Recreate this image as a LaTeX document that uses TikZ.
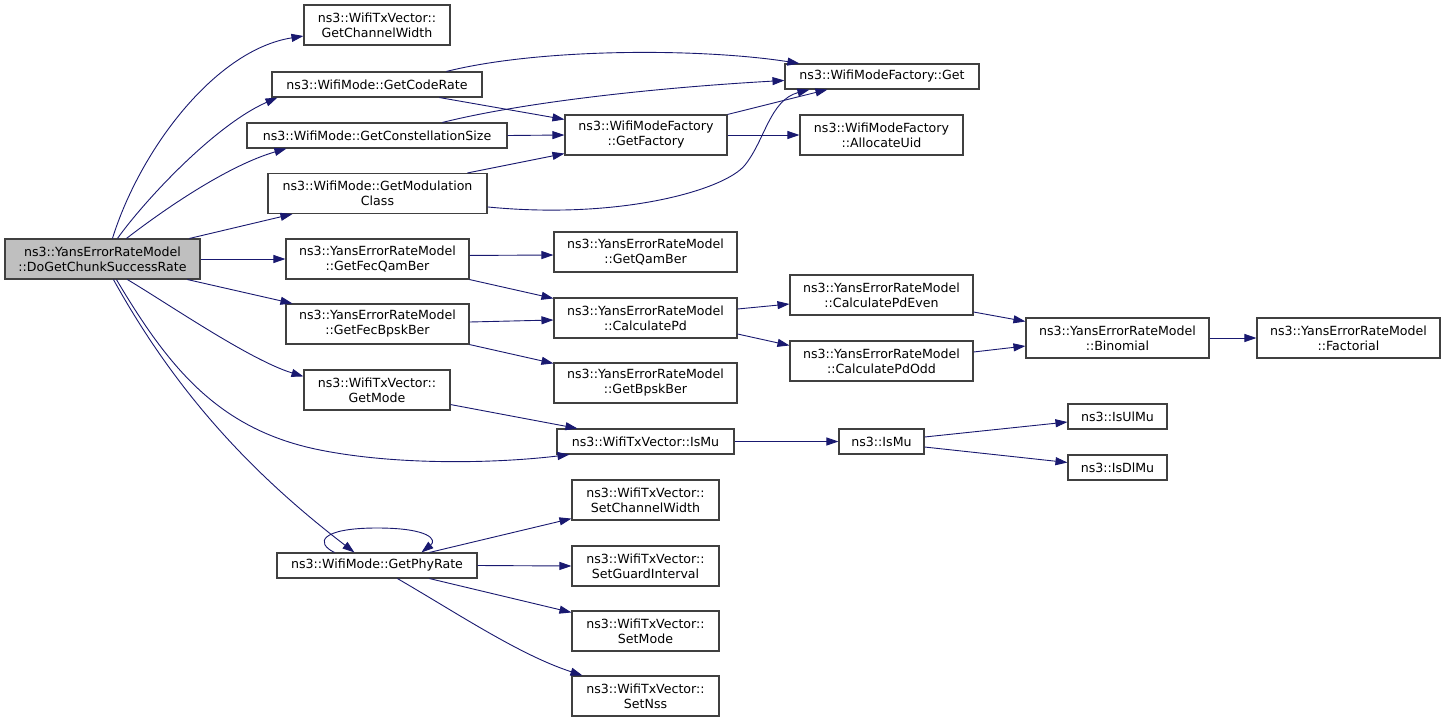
\documentclass[tikz,border=0pt]{standalone}
\usepackage{fontspec}
\setmainfont{DejaVu Sans}
\usetikzlibrary{arrows.meta}
\definecolor{edgecol}{HTML}{191970}
\definecolor{bordercol}{HTML}{404040}
\definecolor{rootfill}{HTML}{BFBFBF}
\begin{document}
\begin{tikzpicture}[x=1pt,y=-1pt,
  fn/.style={draw=bordercol, line width=1.1pt, fill=white, inner sep=0pt, align=center, font=\fontsize{12.6}{15}\selectfont},
  rootfn/.style={fn, fill=rootfill},
  call/.style={draw=edgecol, line width=0.9pt, -{Triangle[length=12pt,width=8pt]}}]
\useasboundingbox[fill=white] (0,0) rectangle (1445,723);
% nodes
\node[rootfn, minimum width=195pt, minimum height=40pt] (root) at (102.5,259) {ns3::YansErrorRateModel\\::DoGetChunkSuccessRate};
\node[fn, minimum width=146pt, minimum height=40pt] (gcw) at (377,25) {ns3::WifiTxVector::\\GetChannelWidth};
\node[fn, minimum width=210pt, minimum height=25pt] (gcr) at (377,84.5) {ns3::WifiMode::GetCodeRate};
\node[fn, minimum width=260pt, minimum height=25pt] (gcs) at (377,135.5) {ns3::WifiMode::GetConstellationSize};
\node[fn, minimum width=219pt, minimum height=40pt] (gmc) at (377.5,193.5) {ns3::WifiMode::GetModulation\\Class};
\node[fn, minimum width=194pt, minimum height=25pt] (get) at (882,76.5) {ns3::WifiModeFactory::Get};
\node[fn, minimum width=162pt, minimum height=40pt] (gf) at (646,135) {ns3::WifiModeFactory\\::GetFactory};
\node[fn, minimum width=163pt, minimum height=40pt] (au) at (881.5,135) {ns3::WifiModeFactory\\::AllocateUid};
\node[fn, minimum width=183pt, minimum height=40pt] (fqam) at (377.5,259) {ns3::YansErrorRateModel\\::GetFecQamBer};
\node[fn, minimum width=183pt, minimum height=40pt] (fbpsk) at (377.5,324) {ns3::YansErrorRateModel\\::GetFecBpskBer};
\node[fn, minimum width=183pt, minimum height=40pt] (qam) at (645.5,252) {ns3::YansErrorRateModel\\::GetQamBer};
\node[fn, minimum width=183pt, minimum height=40pt] (cpd) at (645.5,318) {ns3::YansErrorRateModel\\::CalculatePd};
\node[fn, minimum width=183pt, minimum height=40pt] (bpsk) at (645.5,383) {ns3::YansErrorRateModel\\::GetBpskBer};
\node[fn, minimum width=183pt, minimum height=40pt] (cpe) at (881.5,295) {ns3::YansErrorRateModel\\::CalculatePdEven};
\node[fn, minimum width=183pt, minimum height=40pt] (cpo) at (881.5,361) {ns3::YansErrorRateModel\\::CalculatePdOdd};
\node[fn, minimum width=183pt, minimum height=40pt] (bin) at (1117.5,338) {ns3::YansErrorRateModel\\::Binomial};
\node[fn, minimum width=183pt, minimum height=40pt] (fact) at (1348.5,338) {ns3::YansErrorRateModel\\::Factorial};
\node[fn, minimum width=146pt, minimum height=40pt] (gmode) at (377,390) {ns3::WifiTxVector::\\GetMode};
\node[fn, minimum width=177pt, minimum height=25pt] (ismuv) at (645.5,441.5) {ns3::WifiTxVector::IsMu};
\node[fn, minimum width=85pt, minimum height=25pt] (ismu) at (881.5,441.5) {ns3::IsMu};
\node[fn, minimum width=99pt, minimum height=25pt] (isul) at (1117.5,416.5) {ns3::IsUlMu};
\node[fn, minimum width=99pt, minimum height=25pt] (isdl) at (1117.5,467.5) {ns3::IsDlMu};
\node[fn, minimum width=200pt, minimum height=25pt] (phy) at (377,565.5) {ns3::WifiMode::GetPhyRate};
\node[fn, minimum width=147pt, minimum height=40pt] (scw) at (645.5,500) {ns3::WifiTxVector::\\SetChannelWidth};
\node[fn, minimum width=147pt, minimum height=40pt] (sgi) at (645.5,566) {ns3::WifiTxVector::\\SetGuardInterval};
\node[fn, minimum width=147pt, minimum height=40pt] (smode) at (645.5,631) {ns3::WifiTxVector::\\SetMode};
\node[fn, minimum width=147pt, minimum height=40pt] (snss) at (645.5,696) {ns3::WifiTxVector::\\SetNss};
% edges from root
\draw[call] ([xshift=108pt]root.north west) .. controls (140,150) and (215,50) .. ([yshift=-11pt]gcw.west);
\draw[call] ([xshift=113pt]root.north west) .. controls (145,200) and (215,125) .. ([xshift=6pt]gcr.south west);
\draw[call] ([xshift=122pt]root.north west) .. controls (170,205) and (230,165) .. ([xshift=40pt]gcs.south west);
\draw[call] ([xshift=185pt]root.north west) -- ([xshift=25pt]gmc.south west);
\draw[call] (root.east) -- (fqam.west);
\draw[call] ([xshift=183pt]root.south west) -- ([xshift=7pt]fbpsk.north west);
\draw[call] ([xshift=123pt]root.south west) .. controls (170,305) and (250,360) .. ([yshift=-7pt]gmode.north west);
\draw[call] ([xshift=112pt]root.south west) .. controls (170,370) and (220,430) .. (320,450) .. controls (400,466) and (500,463) .. ([xshift=13pt]ismuv.south west);
\draw[call] ([xshift=109pt]root.south west) .. controls (180,400) and (260,480) .. ([xshift=78pt]phy.north west);
% WifiMode callers
\draw[call] ([xshift=175pt]gcr.north west) .. controls (540,48) and (700,48) .. ([xshift=15pt]get.north west);
\draw[call] ([xshift=168pt]gcr.south west) -- ([yshift=-5pt]gf.north west);
\draw[call] ([xshift=196pt]gcs.north west) .. controls (520,103) and (650,88) .. ([yshift=-17pt]get.north west);
\draw[call] (gcs.east) -- (gf.west);
\draw[call] ([xshift=200pt]gmc.north west) -- ([yshift=2pt]gf.south west);
\draw[call] ([yshift=-34pt]gmc.north east) .. controls (620,220) and (725,190) .. (745,165) .. controls (765,140) and (770,100) .. ([xshift=25pt]get.south west);
\draw[call] (gf.north east) -- ([xshift=43pt]get.south west);
\draw[call] (gf.east) -- (au.west);
% Yans
\draw[call] ([yshift=-17pt]fqam.north east) -- ([yshift=-3pt]qam.west);
\draw[call] (fqam.south east) -- ([yshift=-1pt]cpd.north west);
\draw[call] ([yshift=2pt]fbpsk.east) -- ([yshift=-2pt]cpd.west);
\draw[call] (fbpsk.south east) -- ([yshift=-1pt]bpsk.north west);
\draw[call] ([yshift=9pt]cpd.east) -- ([yshift=-9pt]cpe.west);
\draw[call] ([yshift=-16pt]cpd.east) -- ([yshift=-5pt]cpo.north west);
\draw[call] ([yshift=-17pt]cpe.east) -- ([yshift=-4pt]bin.north west);
\draw[call] ([yshift=9pt]cpo.east) -- ([yshift=-8pt]bin.west);
\draw[call] (bin.east) -- (fact.west);
% IsMu
\draw[call] ([yshift=6pt]gmode.south east) -- ([xshift=21pt]ismuv.north west);
\draw[call] (ismuv.east) -- (ismu.west);
\draw[call] ([yshift=4.5pt]ismu.east) -- ([yshift=-5.5pt]isul.west);
\draw[call] ([yshift=-5.5pt]ismu.east) -- ([yshift=5pt]isdl.west);
% GetPhyRate
\draw[call] ([xshift=58pt]phy.north west) .. controls (315,543) and (320,528) .. (377,528) .. controls (430,528) and (437,540) .. ([xshift=145pt]phy.north west);
\draw[call] ([xshift=153pt]phy.north west) -- ([yshift=2pt]scw.south west);
\draw[call] (phy.east) -- (sgi.west);
\draw[call] ([xshift=153pt]phy.south west) -- ([yshift=-2pt]smode.north west);
\draw[call] ([xshift=121pt]phy.south west) .. controls (460,615) and (520,655) .. ([xshift=11pt]snss.north west);
\end{tikzpicture}
\end{document}
